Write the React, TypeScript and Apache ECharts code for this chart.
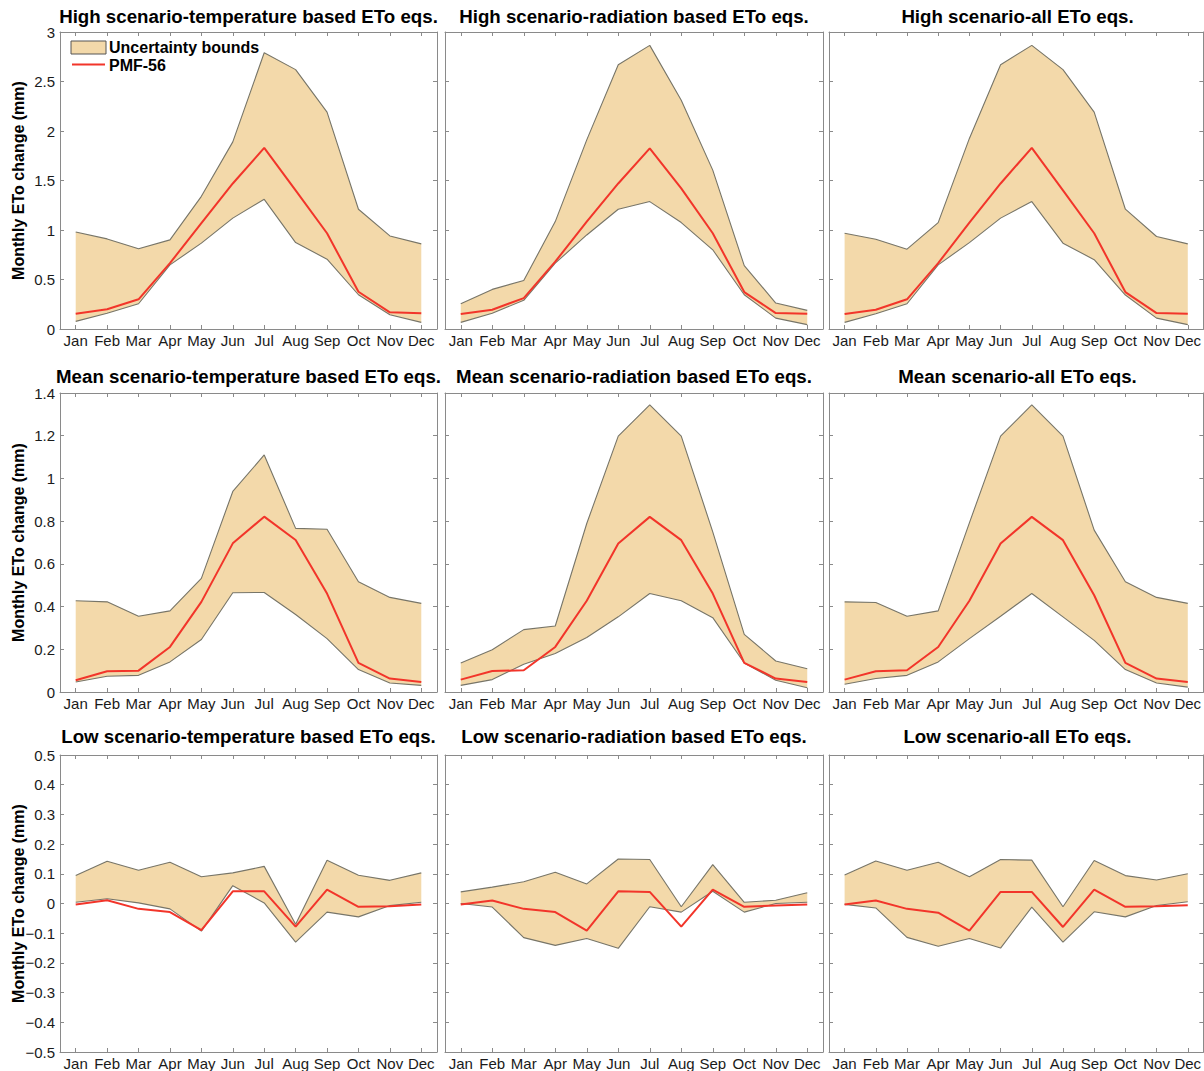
import React, { useEffect, useRef } from 'react';
import * as echarts from 'echarts';

const months = ['Jan', 'Feb', 'Mar', 'Apr', 'May', 'Jun', 'Jul', 'Aug', 'Sep', 'Oct', 'Nov', 'Dec'];

// High scenario
const highTempUpper = [0.98, 0.91, 0.81, 0.9, 1.34, 1.89, 2.79, 2.62, 2.19, 1.21, 0.94, 0.86];
const highTempLower = [0.077, 0.16, 0.255, 0.648, 0.867, 1.12, 1.31, 0.873, 0.705, 0.346, 0.144, 0.067];
const highTempPmf = [0.155, 0.2, 0.3, 0.665, 1.07, 1.47, 1.83, 1.4, 0.967, 0.376, 0.168, 0.158];

const highRadUpper = [0.255, 0.4, 0.49, 1.085, 1.91, 2.67, 2.865, 2.31, 1.605, 0.64, 0.262, 0.188];
const highRadLower = [0.067, 0.16, 0.29, 0.665, 0.95, 1.21, 1.287, 1.075, 0.8, 0.346, 0.11, 0.044];
const highRadPmf = [0.151, 0.195, 0.312, 0.68, 1.085, 1.47, 1.824, 1.42, 0.967, 0.373, 0.161, 0.155];

const highAllUpper = [0.967, 0.907, 0.806, 1.075, 1.925, 2.67, 2.865, 2.62, 2.19, 1.21, 0.934, 0.86];
const highAllLower = [0.067, 0.155, 0.255, 0.648, 0.873, 1.12, 1.287, 0.867, 0.7, 0.343, 0.11, 0.044];
const highAllPmf = [0.151, 0.195, 0.3, 0.665, 1.075, 1.47, 1.83, 1.4, 0.967, 0.373, 0.161, 0.155];

// Mean scenario
const meanTempUpper = [0.427, 0.422, 0.355, 0.38, 0.532, 0.939, 1.11, 0.766, 0.762, 0.516, 0.443, 0.415];
const meanTempLower = [0.047, 0.074, 0.078, 0.141, 0.246, 0.465, 0.466, 0.363, 0.25, 0.105, 0.042, 0.031];
const meanTempPmf = [0.055, 0.097, 0.1, 0.211, 0.422, 0.696, 0.821, 0.712, 0.461, 0.136, 0.063, 0.047];

const meanRadUpper = [0.136, 0.198, 0.292, 0.309, 0.789, 1.198, 1.344, 1.198, 0.75, 0.27, 0.145, 0.109];
const meanRadLower = [0.031, 0.058, 0.13, 0.18, 0.255, 0.352, 0.461, 0.427, 0.348, 0.136, 0.055, 0.02];
const meanRadPmf = [0.058, 0.098, 0.102, 0.211, 0.427, 0.695, 0.82, 0.711, 0.461, 0.136, 0.063, 0.047];

const meanAllUpper = [0.422, 0.419, 0.355, 0.38, 0.792, 1.198, 1.344, 1.198, 0.758, 0.516, 0.443, 0.415];
const meanAllLower = [0.036, 0.063, 0.078, 0.141, 0.25, 0.355, 0.461, 0.352, 0.242, 0.105, 0.042, 0.023];
const meanAllPmf = [0.058, 0.097, 0.102, 0.211, 0.427, 0.695, 0.82, 0.711, 0.453, 0.136, 0.063, 0.047];

// Low scenario
const lowTempUpper = [0.094, 0.142, 0.112, 0.139, 0.09, 0.103, 0.125, -0.07, 0.146, 0.095, 0.078, 0.103];
const lowTempLower = [0.004, 0.016, 0.002, -0.018, -0.093, 0.06, 0.002, -0.13, -0.029, -0.045, -0.007, 0.004];
const lowTempPmf = [-0.003, 0.011, -0.018, -0.029, -0.09, 0.041, 0.041, -0.078, 0.047, -0.011, -0.009, -0.003];

const lowRadUpper = [0.039, 0.055, 0.073, 0.105, 0.066, 0.15, 0.148, -0.011, 0.131, 0.004, 0.011, 0.036];
const lowRadLower = [0.0, -0.012, -0.115, -0.141, -0.118, -0.151, -0.011, -0.029, 0.041, -0.029, 0.0, 0.004];
const lowRadPmf = [-0.003, 0.01, -0.018, -0.029, -0.091, 0.041, 0.039, -0.078, 0.047, -0.011, -0.007, -0.003];

const lowAllUpper = [0.096, 0.143, 0.112, 0.139, 0.09, 0.148, 0.146, -0.011, 0.145, 0.094, 0.079, 0.1];
const lowAllLower = [-0.003, -0.015, -0.114, -0.144, -0.118, -0.15, -0.012, -0.13, -0.028, -0.045, -0.007, 0.006];
const lowAllPmf = [-0.003, 0.01, -0.018, -0.031, -0.091, 0.039, 0.039, -0.079, 0.047, -0.011, -0.009, -0.006];

const rowScales = [
  { min: 0, max: 3, interval: 0.5 },
  { min: 0, max: 1.4, interval: 0.2 },
  { min: -0.5, max: 0.5, interval: 0.1 },
];

const panels = [
  { title: 'High scenario-temperature based ETo eqs.', upper: highTempUpper, lower: highTempLower, pmf: highTempPmf },
  { title: 'High scenario-radiation based ETo eqs.', upper: highRadUpper, lower: highRadLower, pmf: highRadPmf },
  { title: 'High scenario-all ETo eqs.', upper: highAllUpper, lower: highAllLower, pmf: highAllPmf },
  { title: 'Mean scenario-temperature based ETo eqs.', upper: meanTempUpper, lower: meanTempLower, pmf: meanTempPmf },
  { title: 'Mean scenario-radiation based ETo eqs.', upper: meanRadUpper, lower: meanRadLower, pmf: meanRadPmf },
  { title: 'Mean scenario-all ETo eqs.', upper: meanAllUpper, lower: meanAllLower, pmf: meanAllPmf },
  { title: 'Low scenario-temperature based ETo eqs.', upper: lowTempUpper, lower: lowTempLower, pmf: lowTempPmf },
  { title: 'Low scenario-radiation based ETo eqs.', upper: lowRadUpper, lower: lowRadLower, pmf: lowRadPmf },
  { title: 'Low scenario-all ETo eqs.', upper: lowAllUpper, lower: lowAllLower, pmf: lowAllPmf },
];

const FONT = '"Liberation Sans", Arial, Helvetica, sans-serif';
const BAND_FILL = '#f3d9aa';
const BAND_EDGE = '#777568';
const PMF_RED = '#f2352a';
const AXIS_GRAY = '#8a8a8a';

const colLeft = [60, 445, 829];
const colWidth = [377, 378, 377];
const rowTop = [32, 393, 755];
const rowHeight = [297, 299, 297];
const titleY = [16, 376, 736];

function fmt(v: number) {
  const r = Math.round(v * 10) / 10;
  if (r === 0) return '0';
  return (r < 0 ? '\u2212' : '') + String(Math.abs(r));
}

function buildOption() {
  const grid: any[] = [];
  const xAxis: any[] = [];
  const yAxis: any[] = [];
  const series: any[] = [];
  const graphic: any[] = [];

  panels.forEach((p, idx) => {
    const r = Math.floor(idx / 3);
    const c = idx % 3;
    const sc = rowScales[r];
    grid.push({ left: colLeft[c], top: rowTop[r], width: colWidth[c], height: rowHeight[r], containLabel: false });

    const tick = { show: true, inside: true, alignWithLabel: true, length: 4, lineStyle: { color: AXIS_GRAY, width: 1 } };
    const line = { show: true, onZero: false, lineStyle: { color: AXIS_GRAY, width: 1 } };
    xAxis.push({
      type: 'category', gridIndex: idx, data: months, boundaryGap: true, position: 'bottom',
      axisLine: line, axisTick: tick,
      axisLabel: { show: true, interval: 0, color: '#1a1a1a', fontSize: 15, fontFamily: FONT, margin: 4 },
      splitLine: { show: false },
    });
    xAxis.push({
      type: 'category', gridIndex: idx, data: months, boundaryGap: true, position: 'top',
      axisLine: line, axisTick: tick, axisLabel: { show: false }, splitLine: { show: false },
    });
    yAxis.push({
      type: 'value', gridIndex: idx, position: 'left', min: sc.min, max: sc.max, interval: sc.interval,
      axisLine: line, axisTick: { ...tick, alignWithLabel: false },
      axisLabel: { show: c === 0, color: '#1a1a1a', fontSize: 15, fontFamily: FONT, margin: 5, formatter: fmt, showMinLabel: true, showMaxLabel: true },
      splitLine: { show: false },
      name: c === 0 ? 'Monthly ETo change (mm)' : '',
      nameLocation: 'middle', nameGap: 34, nameRotate: 90, nameMoveOverlap: false,
      nameTextStyle: { fontSize: 16, fontWeight: 'bold', color: '#000', fontFamily: FONT },
    });
    yAxis.push({
      type: 'value', gridIndex: idx, position: 'right', min: sc.min, max: sc.max, interval: sc.interval,
      axisLine: line, axisTick: { ...tick, alignWithLabel: false }, axisLabel: { show: false }, splitLine: { show: false },
    });

    const xi = idx * 2;
    const yi = idx * 2;
    const stackName = 'band' + idx;
    series.push({
      type: 'line', name: 'lower', xAxisIndex: xi, yAxisIndex: yi, stack: stackName, stackStrategy: 'all',
      data: p.lower, symbol: 'none', lineStyle: { color: BAND_EDGE, width: 1.1 }, z: 2, silent: true,
    });
    series.push({
      type: 'line', name: 'Uncertainty bounds', xAxisIndex: xi, yAxisIndex: yi, stack: stackName, stackStrategy: 'all',
      data: p.upper.map((u, i) => u - p.lower[i]), symbol: 'none',
      lineStyle: { color: BAND_EDGE, width: 1.1 }, areaStyle: { color: BAND_FILL, opacity: 1 }, z: 1, silent: true,
    });
    series.push({
      type: 'line', name: 'PMF-56', xAxisIndex: xi, yAxisIndex: yi, data: p.pmf, symbol: 'none',
      lineStyle: { color: PMF_RED, width: 2 }, z: 5, silent: true,
    });

    graphic.push({
      type: 'text', x: colLeft[c] + colWidth[c] / 2, y: titleY[r],
      style: { text: p.title, align: 'center', verticalAlign: 'middle', fontSize: 18.7, fontWeight: 'bold', fontFamily: FONT, fill: '#000' },
      z: 10,
    });
  });

  // legend inside first panel
  graphic.push({ type: 'rect', shape: { x: 71, y: 41, width: 35, height: 13 }, style: { fill: BAND_FILL, stroke: '#555', lineWidth: 1 }, z: 20 });
  graphic.push({ type: 'text', x: 109, y: 47.5, style: { text: 'Uncertainty bounds', verticalAlign: 'middle', fontSize: 16, fontWeight: 'bold', fontFamily: FONT, fill: '#000' }, z: 20 });
  graphic.push({ type: 'line', shape: { x1: 72, y1: 64.5, x2: 105, y2: 64.5 }, style: { stroke: PMF_RED, lineWidth: 2 }, z: 20 });
  graphic.push({ type: 'text', x: 109, y: 65, style: { text: 'PMF-56', verticalAlign: 'middle', fontSize: 16, fontWeight: 'bold', fontFamily: FONT, fill: '#000' }, z: 20 });

  return { animation: false, backgroundColor: '#fff', grid, xAxis, yAxis, series, graphic };
}

export default function App() {
  const ref = useRef<HTMLDivElement | null>(null);
  useEffect(() => {
    if (!ref.current) return;
    const chart = echarts.init(ref.current, undefined, { renderer: 'svg' });
    chart.setOption(buildOption() as any);
    return () => chart.dispose();
  }, []);
  return <div ref={ref} style={{ position: 'absolute', left: 0, top: 0, width: 1204, height: 1071 }} />;
}
